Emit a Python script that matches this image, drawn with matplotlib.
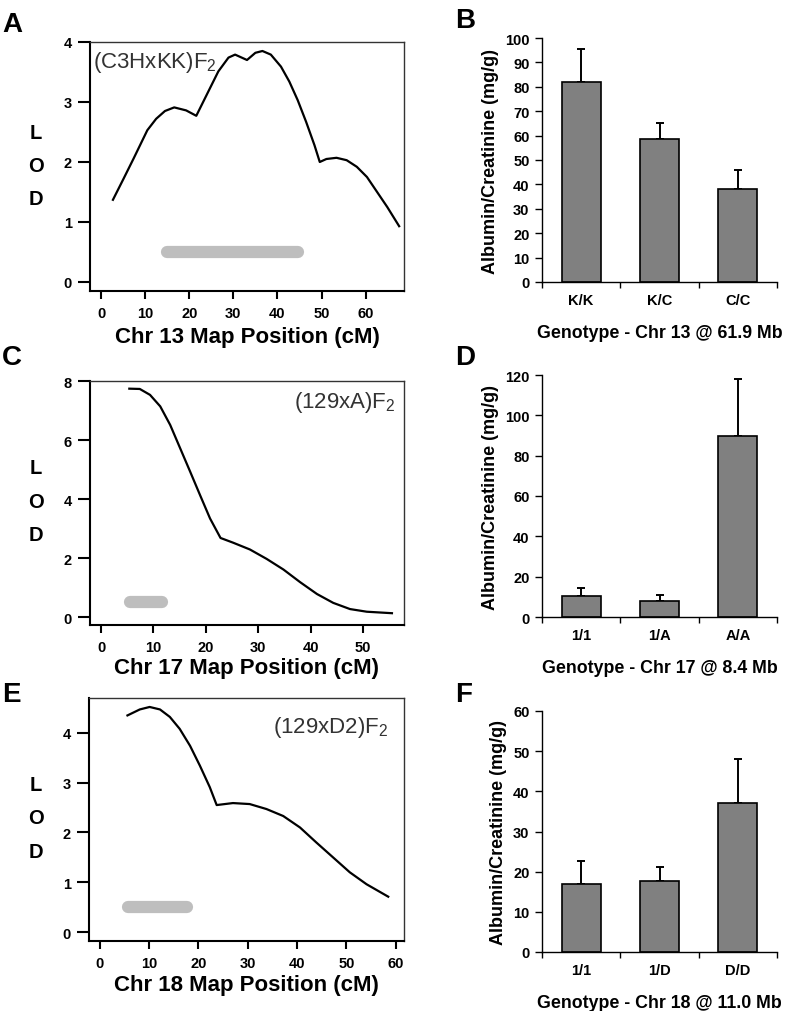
import matplotlib
matplotlib.use("Agg")
import matplotlib.pyplot as plt
from matplotlib.ticker import FixedLocator, NullFormatter

plt.rcParams['font.family'] = ['Liberation Sans', 'DejaVu Sans']
plt.rcParams['mathtext.default'] = 'regular'

W, H = 787, 1012

# ---- LOD profiles (cM, LOD) ----
chr13_cm = [2.7, 5.1, 7.4, 10.5, 12.5, 14.5, 16.6, 19.3, 21.6, 24.3, 26.6, 28.9, 30.4,
            33.1, 35.0, 36.6, 38.5, 40.8, 42.7, 44.6, 46.5, 48.4, 49.6, 51.1, 53.4,
            55.7, 58.0, 60.3, 62.6, 64.9, 67.6]
chr13_lod = [1.37, 1.72, 2.06, 2.53, 2.72, 2.85, 2.91, 2.86, 2.77, 3.17, 3.51, 3.74, 3.79,
             3.70, 3.82, 3.85, 3.79, 3.59, 3.34, 3.03, 2.67, 2.28, 2.00, 2.05, 2.07,
             2.03, 1.92, 1.75, 1.50, 1.25, 0.93]
chr13_ci = [15.0, 44.7]

chr17_cm = [5.4, 7.4, 9.35, 11.3, 13.2, 15.1, 17.0, 18.9, 20.8, 22.8, 25.2, 28.4, 31.6,
            34.8, 38.0, 41.2, 44.3, 47.5, 50.7, 55.5]
chr17_lod = [7.74, 7.73, 7.53, 7.14, 6.51, 5.72, 4.93, 4.13, 3.34, 2.68, 2.52, 2.29, 1.97,
             1.61, 1.18, 0.78, 0.48, 0.27, 0.18, 0.13]
chr17_ci = [5.5, 11.6]

chr18_cm = [5.6, 8.1, 10.1, 12.2, 14.2, 16.2, 18.3, 20.3, 22.3, 23.7, 27.0, 30.4, 33.8,
            37.2, 40.6, 43.9, 47.3, 50.7, 54.1, 58.5]
chr18_lod = [4.35, 4.47, 4.52, 4.47, 4.32, 4.08, 3.74, 3.34, 2.91, 2.55, 2.59, 2.57, 2.47,
             2.33, 2.10, 1.80, 1.50, 1.20, 0.96, 0.71]
chr18_ci = [5.7, 17.7]

# ---- albumin/creatinine by genotype ----
geno13 = ['K/K', 'K/C', 'C/C']
acr13 = [82.0, 58.5, 38.0]
sem13 = [13.5, 6.5, 8.0]

geno17 = ['1/1', '1/A', 'A/A']
acr17 = [10.4, 7.9, 89.8]
sem17 = [4.0, 3.0, 28.2]

geno18 = ['1/1', '1/D', 'D/D']
acr18 = [16.9, 17.6, 37.1]
sem18 = [5.7, 3.5, 10.9]


def px_axes(fig, left, top, right, bottom):
    return fig.add_axes([left / W, 1 - bottom / H, (right - left) / W, (bottom - top) / H])


def ftext(fig, x, y, s, **kw):
    fig.text(x / W, 1 - y / H, s, **kw)


def lod_panel(fig, box, cm, lod, ci, xlim, ylim, yticks, xticks, label, xlabel,
              tag_xy, tag_ha, lod_y, xlabelpad):
    ax = px_axes(fig, *box)
    ax.plot(cm, lod, color='black', lw=1.6, solid_joinstyle='round')
    ax.plot(ci, [0.5, 0.5], color='#bebebe', lw=8.8, solid_capstyle='round')
    ax.set_xlim(*xlim)
    ax.set_ylim(*ylim)
    ax.set_yticks(yticks)
    ax.set_xticks(xticks)
    for s in ['left', 'bottom']:
        ax.spines[s].set_linewidth(1.5)
    for s in ['top', 'right']:
        ax.spines[s].set_linewidth(1.0)
        ax.spines[s].set_color('#333333')
    ax.tick_params(axis='y', length=9, width=1.5, pad=4, labelsize=10.5)
    ax.tick_params(axis='x', length=6, width=1.5, pad=5, labelsize=10.5)
    for t in ax.get_xticklabels() + ax.get_yticklabels():
        t.set_fontweight('bold')
    ax.set_xlabel(xlabel, fontsize=16, fontweight='bold', labelpad=xlabelpad)
    ftext(fig, tag_xy[0], tag_xy[1], label, fontsize=16, color='#333333',
          ha=tag_ha, va='baseline')
    for ch, yy in zip('LOD', lod_y):
        ftext(fig, 36, yy, ch, fontsize=14.5, fontweight='bold', ha='center', va='baseline')
    return ax


def bar_panel(fig, box, geno, vals, errs, ymax, ystep, xlabel):
    ax = px_axes(fig, *box)
    x = list(range(len(geno)))
    ax.bar(x, vals, width=0.5, color='#808080', edgecolor='black', linewidth=1.2, zorder=2)
    ax.errorbar(x, vals, yerr=[[0] * len(errs), errs], fmt='none', ecolor='black',
                elinewidth=1.4, capsize=3, capthick=1.4, zorder=1)
    ax.set_xlim(-0.5, len(geno) - 0.5)
    ax.set_ylim(0, ymax)
    ax.set_yticks(list(range(0, ymax + 1, ystep)))
    ax.set_xticks(x)
    ax.set_xticklabels(geno)
    ax.xaxis.set_minor_locator(FixedLocator([-0.5, 0.5, 1.5, 2.5]))
    ax.xaxis.set_minor_formatter(NullFormatter())
    ax.tick_params(axis='x', which='major', length=0, pad=8, labelsize=10.5)
    ax.tick_params(axis='x', which='minor', length=4, width=1.0)
    ax.tick_params(axis='y', length=5, width=1.0, pad=4, labelsize=10.5)
    for t in ax.get_xticklabels() + ax.get_yticklabels():
        t.set_fontweight('bold')
    ax.spines['top'].set_visible(False)
    ax.spines['right'].set_visible(False)
    ax.spines['left'].set_linewidth(1.0)
    ax.spines['bottom'].set_linewidth(1.0)
    ax.set_ylabel('Albumin/Creatinine (mg/g)', fontsize=13, fontweight='bold', labelpad=4)
    ax.set_xlabel(xlabel, fontsize=12.8, fontweight='bold', labelpad=12)
    return ax


fig = plt.figure(figsize=(W / 100, H / 100), dpi=100)

lod_panel(fig, (90, 43, 404, 292), chr13_cm, chr13_lod, chr13_ci, (-2.5, 68.7), (-0.15, 4.0),
          [0, 1, 2, 3, 4], list(range(0, 61, 10)), '(C3HxKK)F$_2$',
          'Chr 13 Map Position (cM)', (93, 68), 'left', [139, 172, 205], 4)
lod_panel(fig, (90, 382, 404, 626), chr17_cm, chr17_lod, chr17_ci, (-2.1, 57.8), (-0.27, 8.0),
          [0, 2, 4, 6, 8], list(range(0, 51, 10)), '(129xA)F$_2$',
          'Chr 17 Map Position (cM)', (396, 408), 'right', [474, 508, 541], 2)
lod_panel(fig, (89, 699, 404, 942), chr18_cm, chr18_lod, chr18_ci, (-2.2, 61.7), (-0.18, 4.7),
          [0, 1, 2, 3, 4], list(range(0, 61, 10)), '(129xD2)F$_2$',
          'Chr 18 Map Position (cM)', (388, 733), 'right', [791, 824, 858], 3)

bar_panel(fig, (542, 39, 777, 283), geno13, acr13, sem13, 100, 10, 'Genotype - Chr 13 @ 61.9 Mb')
bar_panel(fig, (542, 376, 777, 618), geno17, acr17, sem17, 120, 20, 'Genotype - Chr 17 @ 8.4 Mb')
bar_panel(fig, (542, 712, 777, 953), geno18, acr18, sem18, 60, 10, 'Genotype - Chr 18 @ 11.0 Mb')

for lab, xx, yy in [('A', 2, 32), ('B', 455, 28), ('C', 2, 365), ('D', 455, 365),
                    ('E', 2, 702), ('F', 455, 702)]:
    ftext(fig, xx, yy, lab, fontsize=20, fontweight='bold', ha='left', va='baseline')

fig.savefig('out.png', dpi=100)
